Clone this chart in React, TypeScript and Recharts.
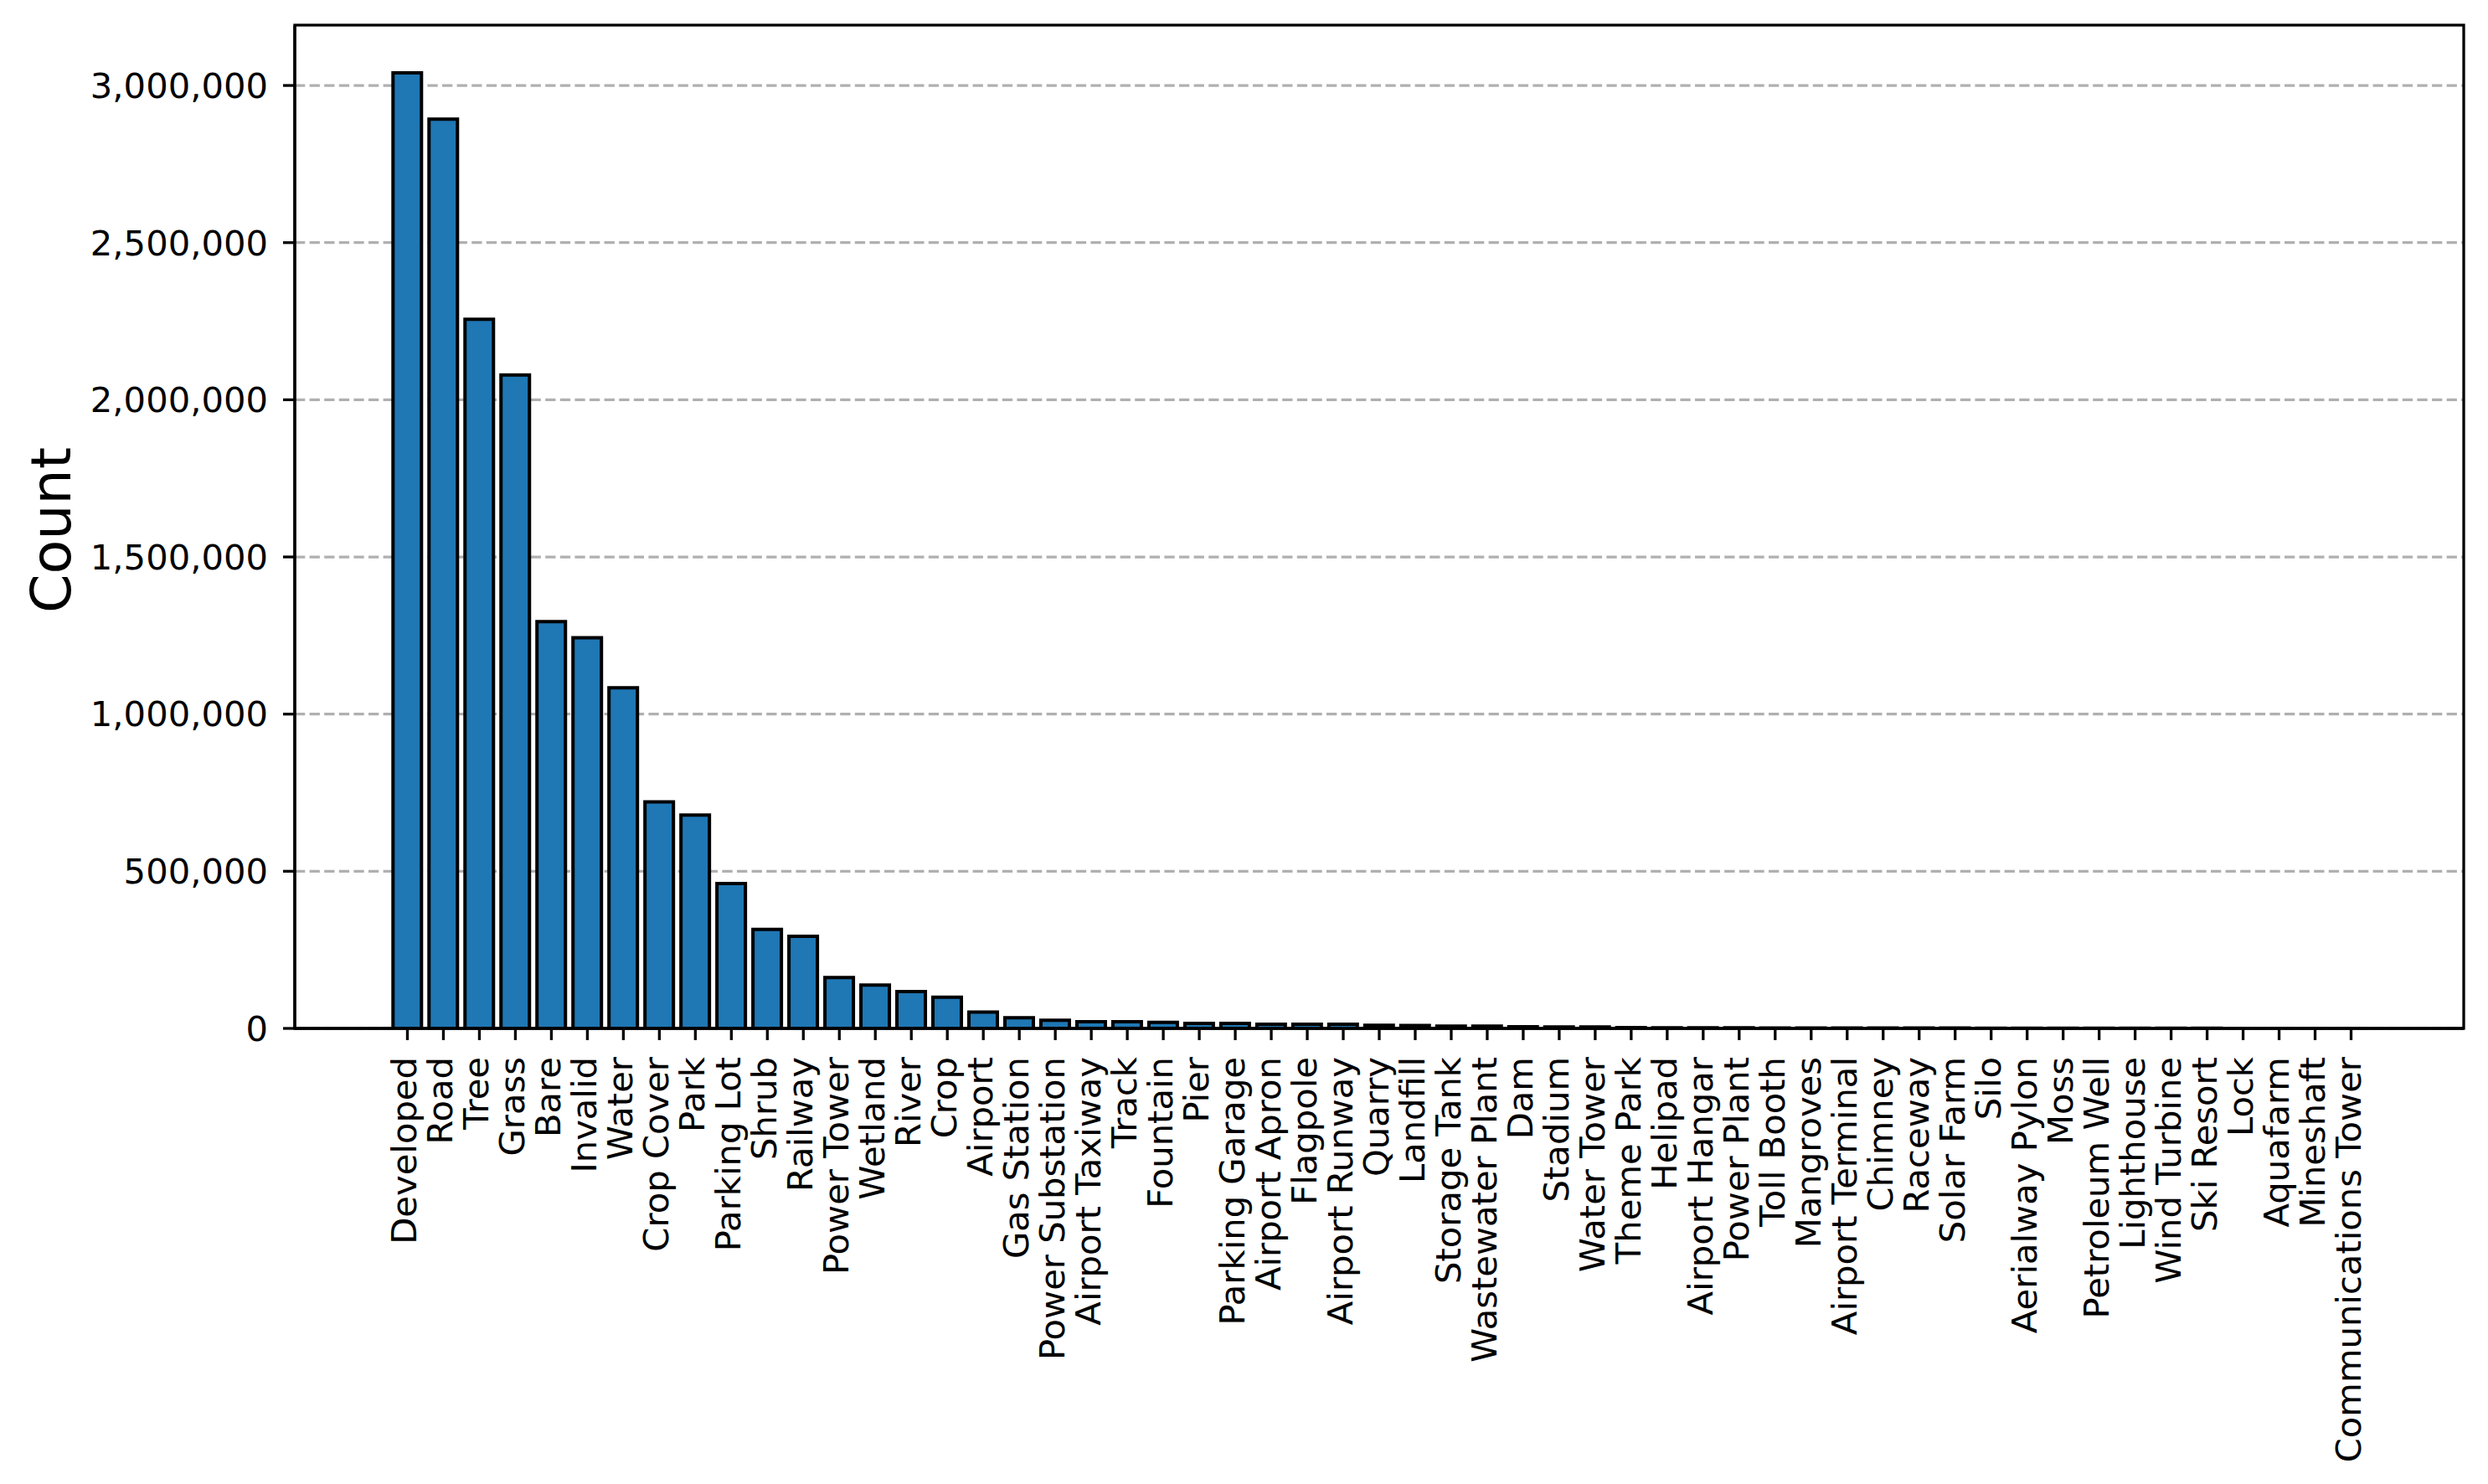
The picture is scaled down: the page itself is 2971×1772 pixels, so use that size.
import * as R from 'recharts';
import { BarChart, Bar, XAxis, YAxis, CartesianGrid, Label } from 'recharts';

const categories = [
  'Developed', 'Road', 'Tree', 'Grass', 'Bare', 'Invalid', 'Water', 'Crop Cover', 'Park',
  'Parking Lot', 'Shrub', 'Railway', 'Power Tower', 'Wetland', 'River', 'Crop', 'Airport',
  'Gas Station', 'Power Substation', 'Airport Taxiway', 'Track', 'Fountain', 'Pier',
  'Parking Garage', 'Airport Apron', 'Flagpole', 'Airport Runway', 'Quarry', 'Landfill',
  'Storage Tank', 'Wastewater Plant', 'Dam', 'Stadium', 'Water Tower', 'Theme Park', 'Helipad',
  'Airport Hangar', 'Power Plant', 'Toll Booth', 'Mangroves', 'Airport Terminal', 'Chimney',
  'Raceway', 'Solar Farm', 'Silo', 'Aerialway Pylon', 'Moss', 'Petroleum Well', 'Lighthouse',
  'Wind Turbine', 'Ski Resort', 'Lock', 'Aquafarm', 'Mineshaft', 'Communications Tower',
];

const counts = [
  3040000, 2893000, 2256000, 2079000, 1294000, 1243000, 1084000, 721000, 679000,
  461000, 315000, 293000, 162000, 138000, 117000, 99000, 52000,
  34000, 26000, 21000, 21000, 19000, 16000,
  16000, 13500, 13300, 13000, 10000, 9500,
  7500, 7000, 5000, 4800, 4500, 2500, 2300,
  2200, 2000, 1500, 1400, 1300, 1200,
  1100, 1000, 900, 800, 700, 600, 500,
  450, 400, 300, 250, 200, 150,
];

const yTicks = [0, 500000, 1000000, 1500000, 2000000, 2500000, 3000000];

const data = categories.map((name, i) => ({ name, count: counts[i] }));

const W = 2971;
const H = 1772;
const FONT = 'DejaVu Sans';
const LINE = { stroke: '#000', strokeWidth: 3.3 };

const formatCount = (v: number) => v.toLocaleString('en-US');

const usePlotArea: any = (R as any).usePlotArea;
const useOffset: any = (R as any).useOffset;

// black box around the plot area, like matplotlib's four spines
function Frame() {
  let box: any = null;
  if (usePlotArea) {
    box = usePlotArea();
  } else if (useOffset) {
    const o = useOffset();
    if (o) box = { x: o.left, y: o.top, width: W - o.left - o.right, height: H - o.top - o.bottom };
  }
  if (!box) return null;
  return (
    <rect
      x={box.x}
      y={box.y}
      width={box.width}
      height={box.height}
      fill="none"
      stroke="#000"
      strokeWidth={3.3}
    />
  );
}

function CategoryTick({ x, y, payload }: any) {
  return (
    <text
      x={x}
      y={y}
      dy={11}
      textAnchor="end"
      transform={`rotate(-90, ${x}, ${y})`}
      fontSize={41.7}
      fontFamily={FONT}
      fill="#000"
    >
      {payload.value}
    </text>
  );
}

export default function App() {
  return (
    <div style={{ width: W, height: H, background: '#fff' }}>
      <style>{'body{margin:0}'}</style>
      <BarChart
        width={W}
        height={H}
        data={data}
        margin={{ top: 30, right: 29, bottom: 0, left: 0 }}
        barCategoryGap="10%"
      >
        <CartesianGrid
          vertical={false}
          horizontalValues={yTicks}
          stroke="#b0b0b0"
          strokeWidth={3.3}
          strokeDasharray="12.3 5.3"
        />
        <XAxis
          dataKey="name"
          interval={0}
          height={544}
          padding={{ left: 113, right: 113 }}
          tick={<CategoryTick />}
          tickSize={14}
          tickMargin={20}
          axisLine={LINE}
          tickLine={LINE}
        />
        <YAxis
          width={352}
          domain={[0, (dataMax: number) => dataMax * 1.05]}
          allowDataOverflow
          ticks={yTicks}
          tickFormatter={formatCount}
          tick={{ fontSize: 41.7, fontFamily: FONT, fill: '#000' }}
          tickSize={14}
          tickMargin={18}
          axisLine={LINE}
          tickLine={LINE}
        >
          <Label
            content={() => (
              <text
                x={84}
                y={633}
                transform="rotate(-90, 84, 633)"
                textAnchor="middle"
                fontSize={66.7}
                fontFamily={FONT}
                fill="#000"
              >
                Count
              </text>
            )}
          />
        </YAxis>
        <Bar dataKey="count" fill="#1f77b4" stroke="#000" strokeWidth={4} isAnimationActive={false} />
        <Frame />
      </BarChart>
    </div>
  );
}
